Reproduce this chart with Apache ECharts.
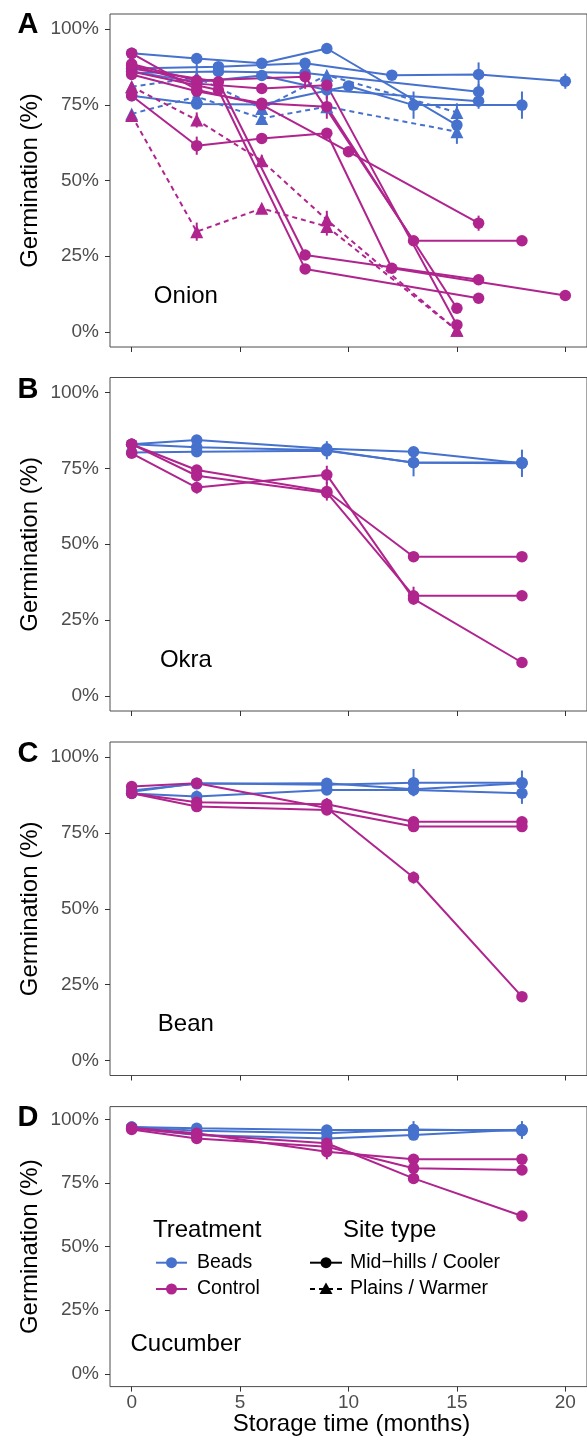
<!DOCTYPE html>
<html><head><meta charset="utf-8">
<script src="https://cdn.jsdelivr.net/npm/echarts@6/dist/echarts.min.js"></script>
<style>html,body{margin:0;padding:0;background:#fff}#c{width:587px;height:1447px}</style>
</head><body><div id="c"></div>
<script>
const FONT = '"Liberation Sans", Arial, Helvetica, sans-serif';
const BLUE = '#4672CE';
const MAG = '#B0248E';

const xTicks = [0, 5, 10, 15, 20];
const yTicks = [0, 25, 50, 75, 100];
const panelTags = ['A', 'B', 'C', 'D'];
const panelNames = ['Onion', 'Okra', 'Bean', 'Cucumber'];
const panelNamePos = [2.5, 11.7];

// each point: [month, germination %, optional error]
// Onion
const onionBeadsHills = [
  [[0,92],[3,90.3],[6,88.7],[9,93.6],[15,68.3,2]],
  [[0,87],[4,87.6],[8,88.7],[12,84.8],[16,85,4],[20,82.8,2.5]],
  [[0,86],[3,82.5,7],[6,84.7],[9,79.9,3],[16,76.2,2.5]],
  [[0,85.5],[4,86],[8,85.5],[16,79.3,2.5]],
  [[0,78],[3,75.3],[6,75.1],[10,81.2],[13,74.9,4.5],[18,74.9,4.5]]
];
const onionBeadsPlains = [
  [[0,81],[3,84],[6,73.8],[9,84.8],[15,72.5,3]],
  [[0,72],[3,77.7],[6,70.5,2],[9,74.4],[15,66.1,4]]
];
const onionControlHills = [
  [[0,87],[4,82.6],[8,25.4],[16,17.2]],
  [[0,86],[4,79.9],[8,20.8],[16,11.1]],
  [[0,85],[3,79.5],[6,75.5],[9,74.4,4],[15,7.8]],
  [[0,88],[3,82],[6,80.4],[9,81.5],[15,2.3]],
  [[0,88.5],[3,83],[8,84.3,4],[13,30.1],[18,30.1]],
  [[0,78],[3,61.5,3],[6,63.9],[9,65.6],[12,21],[20,12]],
  [[0,92],[3,80],[6,75],[10,59.5],[16,35.9,2.5]]
];
const onionControlPlains = [
  [[0,81],[3,70,2.5],[6,56.5,2],[9,37,3],[15,0.5]],
  [[0,71.5],[3,33.1,3],[6,40.8],[9,34.8,3],[15,0.5]]
];
// Okra
const okraBeadsHills = [
  [[0,83],[3,84.4],[9,81.5],[13,80.5],[18,76.7,4.5]],
  [[0,83],[3,82,3],[9,81,3],[13,76.9,4.5],[18,76.7]],
  [[0,80.3],[3,80.5],[9,80.8],[13,77],[18,77]]
];
const okraControlHills = [
  [[0,83],[3,74.5],[9,67.4,3],[13,45.9],[18,45.9]],
  [[0,83],[3,72.6],[9,67],[13,33,3],[18,33]],
  [[0,80],[3,68.7,2],[9,72.9,3],[13,32],[18,11]]
];
// Bean
const beanBeadsHills = [
  [[0,88.6],[3,91.4],[9,90.9],[13,91.6,4.5],[18,91.6,4]],
  [[0,88],[3,87,2],[9,89.2],[13,89.2],[18,88.1,3.5]],
  [[0,89],[3,91.2],[9,91.4],[13,89.4],[18,91.4]]
];
const beanControlHills = [
  [[0,90.3],[3,91.4],[9,83.2],[13,60.3,2],[18,21]],
  [[0,88.1],[3,85.1],[9,84.5,2],[13,78.7],[18,78.7]],
  [[0,88.1],[3,83.7],[9,82.6],[13,77.1],[18,77.1]]
];
// Cucumber
const cucBeadsHills = [
  [[0,97],[3,96.5],[9,95.8],[13,95.8,3.5],[18,95.8,3.5]],
  [[0,96.5],[3,93.8],[9,92.5],[13,93.8],[18,96]],
  [[0,97],[3,95.5],[9,94.5],[13,96],[18,95.5]]
];
const cucControlHills = [
  [[0,96.7],[3,94.5,2],[9,87.3,3],[13,84.3],[18,84.3]],
  [[0,96],[3,92.5],[9,89.2],[13,80.8],[18,80.1]],
  [[0,96.5],[3,94],[9,90.6],[13,76.8],[18,62]]
];

const panels = [
  [[onionBeadsHills, BLUE, false],[onionBeadsPlains, BLUE, true],[onionControlHills, MAG, false],[onionControlPlains, MAG, true]],
  [[okraBeadsHills, BLUE, false],[okraControlHills, MAG, false]],
  [[beanBeadsHills, BLUE, false],[beanControlHills, MAG, false]],
  [[cucBeadsHills, BLUE, false],[cucControlHills, MAG, false]]
];

const gridBoxes = [
  {top: 14, height: 333},
  {top: 377.5, height: 333.5},
  {top: 742, height: 333.5},
  {top: 1106.6, height: 280}
];

const grid = [], xAxis = [], yAxis = [], series = [];
gridBoxes.forEach((g, i) => {
  grid.push({left: 110, width: 483, top: g.top, height: g.height, show: true,
    borderColor: '#4d4d4d', borderWidth: 1, backgroundColor: 'transparent'});
  xAxis.push({type: 'value', gridIndex: i, min: -1, max: 21, position: 'bottom',
    axisLine: {show: false, onZero: false},
    axisTick: {show: true, length: 5, customValues: xTicks, lineStyle: {color: '#333', width: 1}},
    axisLabel: {show: i === 3, customValues: xTicks, fontSize: 19, color: '#4d4d4d', margin: 7, fontFamily: FONT},
    splitLine: {show: false}});
  yAxis.push({type: 'value', gridIndex: i, min: -5, max: 105, position: 'left',
    axisLine: {show: false, onZero: false},
    axisTick: {show: true, length: 5, customValues: yTicks, lineStyle: {color: '#333', width: 1}},
    axisLabel: {show: true, customValues: yTicks, formatter: '{value}%', fontSize: 19, color: '#4d4d4d', margin: 11, fontFamily: FONT},
    splitLine: {show: false}});
});

panels.forEach((groups, i) => {
  groups.forEach(([lines, color, dashed]) => {
    lines.forEach(line => series.push({type: 'line', xAxisIndex: i, yAxisIndex: i,
      data: line.map(p => [p[0], p[1]]), symbol: 'none', showSymbol: false, silent: true, z: 2,
      lineStyle: {color: color, width: 2, type: dashed ? [5, 4] : 'solid'}, animation: false}));
  });
  groups.forEach(([lines, color]) => {
    const pts = [];
    lines.forEach(line => line.forEach(p => { if (p[2]) pts.push([p[0], p[1], p[2]]); }));
    series.push({type: 'custom', xAxisIndex: i, yAxisIndex: i, data: pts, z: 3, silent: true, animation: false,
      encode: {x: 0, y: 1},
      renderItem: (params, api) => {
        const x = api.value(0), y = api.value(1), e = api.value(2);
        const a = api.coord([x, y - e]), b = api.coord([x, y + e]);
        return {type: 'line', shape: {x1: a[0], y1: a[1], x2: b[0], y2: b[1]}, style: {stroke: color, lineWidth: 2}};
      }});
  });
  groups.forEach(([lines, color, dashed]) => {
    const pts = [];
    lines.forEach(line => line.forEach(p => pts.push([p[0], p[1]])));
    series.push({type: 'scatter', xAxisIndex: i, yAxisIndex: i, data: pts, z: 4, silent: true, animation: false,
      symbol: dashed ? 'triangle' : 'circle', symbolSize: dashed ? 13 : 11.5,
      itemStyle: {color: color, opacity: 1}});
  });
});

function txt(text, x, y, size, opts) {
  opts = opts || {};
  return {type: 'text', x: x, y: y, rotation: opts.rotation || 0, z: 10, silent: true,
    style: {text: text, fill: opts.fill || '#000', font: (opts.weight || 'normal') + ' ' + size + 'px ' + FONT,
      align: opts.align || 'left', verticalAlign: 'middle', textAlign: opts.align || 'left', textVerticalAlign: 'middle'}};
}

const graphic = [];
const tagY = [25, 390, 754, 1118];
const titleY = [180.5, 544.3, 908.8, 1246.7];
panelTags.forEach((t, i) => {
  graphic.push(txt(t, 28, tagY[i], 29, {weight: 'bold', align: 'center'}));
  graphic.push(txt('Germination (%)', 30, titleY[i], 24, {align: 'center', rotation: Math.PI / 2}));
});
graphic.push(txt('Storage time (months)', 351.5, 1424, 24, {align: 'center'}));

const legRows = [1262.7, 1289];
graphic.push(txt('Treatment', 153, 1230, 24));
graphic.push(txt('Site type', 343, 1230, 24));
[[BLUE, 'Beads'], [MAG, 'Control']].forEach(([c, lab], k) => {
  const y = legRows[k];
  graphic.push({type: 'line', shape: {x1: 156, y1: y, x2: 187, y2: y}, style: {stroke: c, lineWidth: 2}, z: 10});
  graphic.push({type: 'circle', shape: {cx: 171.5, cy: y, r: 5.5}, style: {fill: c}, z: 11});
  graphic.push(txt(lab, 197, y, 19.5));
});
graphic.push({type: 'line', shape: {x1: 310, y1: legRows[0], x2: 342, y2: legRows[0]}, style: {stroke: '#000', lineWidth: 2}, z: 10});
graphic.push({type: 'circle', shape: {cx: 326, cy: legRows[0], r: 5.5}, style: {fill: '#000'}, z: 11});
graphic.push(txt('Mid\u2212hills / Cooler', 350, legRows[0], 19.5));
graphic.push({type: 'line', shape: {x1: 310, y1: legRows[1], x2: 342, y2: legRows[1]}, style: {stroke: '#000', lineWidth: 2, lineDash: [5, 4]}, z: 10});
graphic.push({type: 'polygon', shape: {points: [[326, legRows[1] - 6.5], [332.5, legRows[1] + 5], [319.5, legRows[1] + 5]]}, style: {fill: '#000'}, z: 11});
graphic.push(txt('Plains / Warmer', 350, legRows[1], 19.5));

const chart = echarts.init(document.getElementById('c'), null, {renderer: 'canvas'});
chart.setOption({animation: false, backgroundColor: '#fff', grid, xAxis, yAxis, series, graphic});

// panel names placed through each panel's own scales
const nameGraphics = panelNames.map((n, i) => {
  const p = chart.convertToPixel({xAxisIndex: i, yAxisIndex: i}, panelNamePos);
  return txt(n, p[0], p[1], 24, {align: 'center'});
});
chart.setOption({graphic: graphic.concat(nameGraphics)});
</script>
</body></html>
